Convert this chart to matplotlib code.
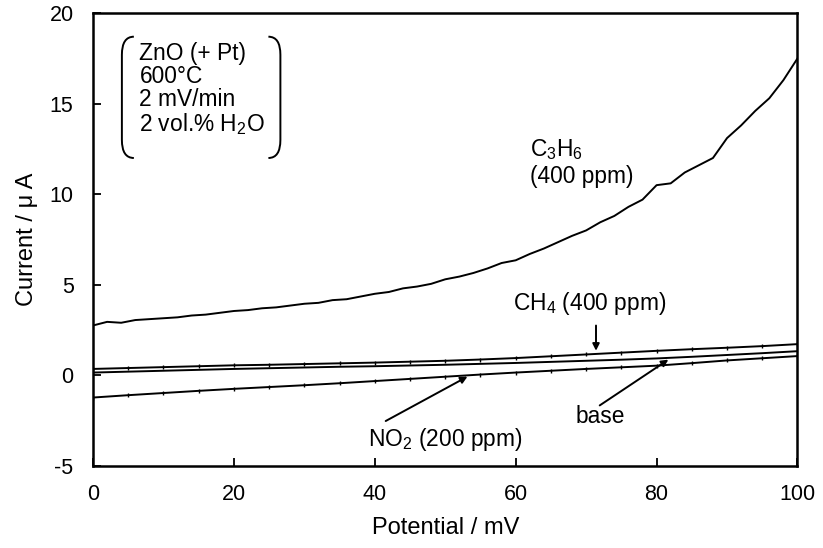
import numpy as np
import matplotlib.pyplot as plt
from matplotlib.path import Path
from matplotlib.patches import PathPatch

plt.rcParams['font.family'] = ['Liberation Sans', 'DejaVu Sans']
plt.rcParams['mathtext.fontset'] = 'custom'
plt.rcParams['mathtext.rm'] = 'Liberation Sans'
plt.rcParams['mathtext.default'] = 'regular'

# values (potential in mV, current in uA)
pot_c3h6 = list(range(0, 101, 2))
cur_c3h6 = [2.75, 2.95, 2.9, 3.05, 3.1, 3.15, 3.2, 3.3, 3.35, 3.45, 3.55, 3.6, 3.7,
            3.75, 3.85, 3.95, 4.0, 4.15, 4.2, 4.35, 4.5, 4.6, 4.8, 4.9, 5.05, 5.3,
            5.45, 5.65, 5.9, 6.2, 6.35, 6.7, 7.0, 7.35, 7.7, 8.0, 8.45, 8.8, 9.3,
            9.7, 10.5, 10.6, 11.2, 11.6, 12.0, 13.1, 13.8, 14.6, 15.3, 16.3, 17.5]

pot = [0, 5, 10, 15, 20, 25, 30, 35, 40, 45, 50, 55, 60, 65, 70, 75, 80, 85, 90, 95, 100]
cur_ch4 = [0.35, 0.4, 0.45, 0.5, 0.55, 0.58, 0.62, 0.66, 0.7, 0.75, 0.8, 0.87, 0.95,
           1.05, 1.15, 1.25, 1.35, 1.44, 1.52, 1.61, 1.72]
cur_base = [0.15, 0.2, 0.25, 0.3, 0.35, 0.39, 0.43, 0.47, 0.5, 0.54, 0.58, 0.63, 0.68,
            0.74, 0.8, 0.86, 0.93, 1.02, 1.12, 1.22, 1.33]
cur_no2 = [-1.23, -1.1, -0.98, -0.86, -0.75, -0.65, -0.55, -0.44, -0.32, -0.2, -0.08,
           0.04, 0.15, 0.25, 0.35, 0.44, 0.53, 0.67, 0.82, 0.94, 1.06]

fig = plt.figure(figsize=(8.23, 5.48), dpi=100)
ax = fig.add_axes([0.113, 0.150, 0.856, 0.826])

ax.plot(pot_c3h6, cur_c3h6, color='black', lw=1.4)
ax.plot(pot, cur_ch4, color='black', lw=1.4, marker='|', ms=3, mew=1)
ax.plot(pot, cur_base, color='black', lw=1.4)
ax.plot(pot, cur_no2, color='black', lw=1.4, marker='|', ms=3, mew=1)

ax.set_xlim(0, 100)
ax.set_ylim(-5, 20)
ax.set_xticks([0, 20, 40, 60, 80, 100])
ax.set_yticks([-5, 0, 5, 10, 15, 20])
ax.set_yticklabels(['-5', '0', '5', '10', '15', '20'])
ax.tick_params(direction='in', length=6, width=1.3, labelsize=15.5)
ax.tick_params(axis='y', pad=14)
ax.tick_params(axis='x', pad=13)
for s in ax.spines.values():
    s.set_linewidth(1.8)

ax.set_xlabel('Potential / mV', fontsize=17, labelpad=9)
ax.set_ylabel('Current / μ A', fontsize=17, labelpad=8)

# conditions box with round brackets
ax.text(6.6, 18.4, 'ZnO (+ Pt)\n600°C\n2 mV/min\n2 vol.% H$_2$O', fontsize=16.4,
        va='top', ha='left', linespacing=1.0)
def bracket(x_out, x_in, y0, y1, r):
    verts = [(x_in, y1), (x_out, y1), (x_out, y1 - r), (x_out, y0 + r), (x_out, y0), (x_in, y0)]
    codes = [Path.MOVETO, Path.CURVE3, Path.CURVE3, Path.LINETO, Path.CURVE3, Path.CURVE3]
    ax.add_patch(PathPatch(Path(verts, codes), fill=False, lw=1.4, color='black'))
bracket(4.1, 5.8, 12.0, 18.7, 1.0)
bracket(26.6, 24.9, 12.0, 18.7, 1.0)

ax.text(62.0, 11.76, 'C$_3$H$_6$\n(400 ppm)', fontsize=16.4, va='center', ha='left',
        linespacing=1.15)
ax.text(59.6, 3.96, 'CH$_4$ (400 ppm)', fontsize=16.4, va='center', ha='left')
ax.annotate('', xy=(71.4, 1.2), xytext=(71.4, 2.9),
            arrowprops=dict(arrowstyle='-|>', color='black', lw=1.4, mutation_scale=10))
ax.text(68.5, -2.3, 'base', fontsize=16.4, va='center', ha='left')
ax.annotate('', xy=(82.0, 0.95), xytext=(71.6, -1.75),
            arrowprops=dict(arrowstyle='-|>', color='black', lw=1.4, mutation_scale=10))
ax.text(39.1, -3.57, 'NO$_2$ (200 ppm)', fontsize=16.4, va='center', ha='left')
ax.annotate('', xy=(53.5, 0.0), xytext=(41.2, -2.6),
            arrowprops=dict(arrowstyle='-|>', color='black', lw=1.4, mutation_scale=10))

fig.savefig('out.png', dpi=100)
